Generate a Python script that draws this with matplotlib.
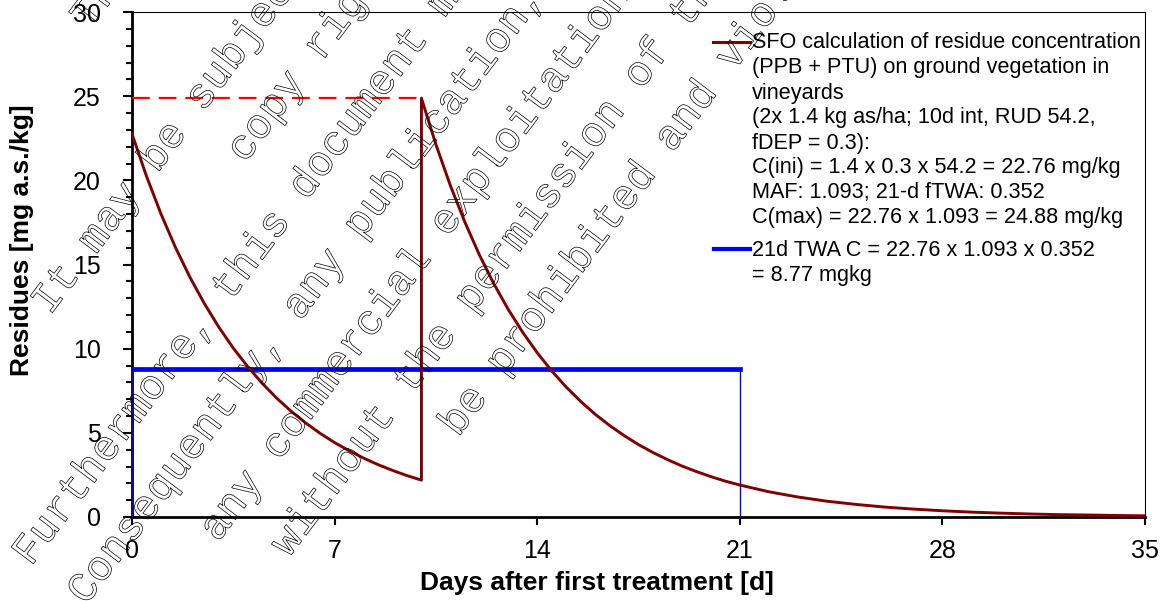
import matplotlib
matplotlib.use('Agg')
import matplotlib.pyplot as plt
from matplotlib.textpath import TextPath
from matplotlib.patches import PathPatch
from matplotlib.font_manager import FontProperties
from matplotlib.transforms import Affine2D, IdentityTransform
from matplotlib.ticker import MultipleLocator
from matplotlib.lines import Line2D

plt.rcParams['font.family'] = ['Liberation Sans', 'DejaVu Sans']

# residues after 1st application (day 0) and 2nd application (day 10)
days_1 = [0, 0.5, 1, 1.5, 2, 2.5, 3, 3.5, 4, 4.5, 5, 5.5, 6, 6.5, 7, 7.5, 8, 8.5, 9, 9.5, 10]
res_1 = [22.76, 20.25, 18.01, 16.02, 14.25, 12.68, 11.28, 10.03, 8.93, 7.94, 7.06,
         6.28, 5.59, 4.97, 4.42, 3.94, 3.50, 3.11, 2.77, 2.46, 2.19]
days_2 = [10, 10.5, 11, 11.5, 12, 12.5, 13, 13.5, 14, 14.5, 15, 15.5, 16, 16.5, 17,
          17.5, 18, 18.5, 19, 19.5, 20, 20.5, 21, 22, 23, 24, 25, 26, 27, 28, 29,
          30, 31, 32, 33, 34, 35]
res_2 = [24.88, 22.13, 19.69, 17.52, 15.58, 13.86, 12.33, 10.97, 9.76, 8.68, 7.72,
         6.87, 6.11, 5.44, 4.84, 4.30, 3.83, 3.41, 3.03, 2.70, 2.40, 2.13, 1.90,
         1.50, 1.19, 0.94, 0.75, 0.59, 0.47, 0.37, 0.29, 0.23, 0.18, 0.14, 0.12,
         0.09, 0.07]
app_days = [0, 10]
c_max = 24.88
twa_c = 8.77
twa_window = [0, 21]

x_ticks = [0, 7, 14, 21, 28, 35]

legend_1 = ['SFO calculation of residue concentration',
            '(PPB + PTU) on ground vegetation in',
            'vineyards',
            '(2x 1.4 kg as/ha; 10d int, RUD 54.2,',
            'fDEP = 0.3):',
            'C(ini) = 1.4 x 0.3 x 54.2 = 22.76 mg/kg',
            'MAF: 1.093; 21-d fTWA: 0.352',
            'C(max) = 22.76 x 1.093 = 24.88 mg/kg']
legend_2 = ['21d TWA C = 22.76 x 1.093 x 0.352',
            '= 8.77 mgkg']

watermark = [
    ('This document is the property of Bayer AG and/or any of its affiliates.', 90, 30),
    ('It may be subject to rights such as intellectual property and', 50, 316),
    ('copy rights of the owner and third parties.', 245, 164),
    ('Furthermore, this document may fall under a regulatory data protection regime.', 31, 567),
    ('Consequently, any publication, distribution, reproduction and/or publishing and', 86, 606),
    ('any commercial exploitation and use of this document or its contents', 218, 543),
    ('without the permission of the owner of this document may therefore', 289, 558),
    ('be prohibited and violate the rights of its owner.', 458, 438),
]

W, H = 1161, 601
fig = plt.figure(figsize=(W / 100, H / 100), dpi=100)
ax = fig.add_axes([132 / W, 1 - 517 / H, (1145 - 132) / W, (517 - 12) / H])

dark_red = '#800000'
ax.plot(days_1 + days_2, res_1 + res_2, color=dark_red, lw=2.1, zorder=4)
ax.plot(app_days, [c_max, c_max], color='#ff0000', lw=1.6,
        linestyle=(0, (8, 4)), zorder=3)
ax.plot(twa_window, [twa_c, twa_c], color='#0000ff', lw=3.4, zorder=3)
ax.vlines(twa_window, 0, twa_c, color='#0000ff', lw=1.0, zorder=3)

ax.set_xlim(0, 35)
ax.set_ylim(0, 30)
ax.set_xticks(x_ticks)
ax.yaxis.set_major_locator(MultipleLocator(5))
ax.yaxis.set_minor_locator(MultipleLocator(1))
ax.tick_params(axis='y', which='major', direction='out', length=6.5, width=1.5,
               labelsize=18, pad=16)
ax.tick_params(axis='y', which='minor', direction='out', length=4.3, width=1.5)
ax.tick_params(axis='x', which='major', direction='out', length=6, width=1.5,
               labelsize=18, pad=10)
for side in ['left', 'bottom']:
    ax.spines[side].set_linewidth(2.0)
for side in ['top', 'right']:
    ax.spines[side].set_linewidth(0.8)

fig.text(597 / W, 1 - 583 / H, 'Days after first treatment [d]', fontsize=19,
         fontweight='bold', ha='center', va='center')
fig.text(22 / W, 1 - 240 / H, 'Residues [mg a.s./kg]', fontsize=19,
         fontweight='bold', ha='center', va='center', rotation=90)

# legend, drawn by hand so the handle sits on the first line
fig.add_artist(Line2D([713 / W, 750 / W], [1 - 42 / H, 1 - 42 / H],
                      color=dark_red, lw=2.2))
fig.add_artist(Line2D([714 / W, 750 / W], [1 - 249 / H, 1 - 249 / H],
                      color='#0000ff', lw=3.0))
for i, line in enumerate(legend_1):
    fig.text(752 / W, 1 - (48.5 + 25 * i) / H, line, fontsize=15.6, va='baseline')
for i, line in enumerate(legend_2):
    fig.text(752 / W, 1 - (256 + 25 * i) / H, line, fontsize=15.6, va='baseline')

# outlined watermark text
fp = FontProperties(family='Liberation Mono')
for txt, x0, y0 in watermark:
    path = TextPath((0, 0), txt, size=42.4, prop=fp)
    tr = Affine2D().rotate_deg(53).translate(x0, H - y0) + IdentityTransform()
    fig.add_artist(PathPatch(path, transform=tr, facecolor='none',
                             edgecolor='black', lw=0.5, zorder=10))

fig.savefig('out.png', dpi=100)
